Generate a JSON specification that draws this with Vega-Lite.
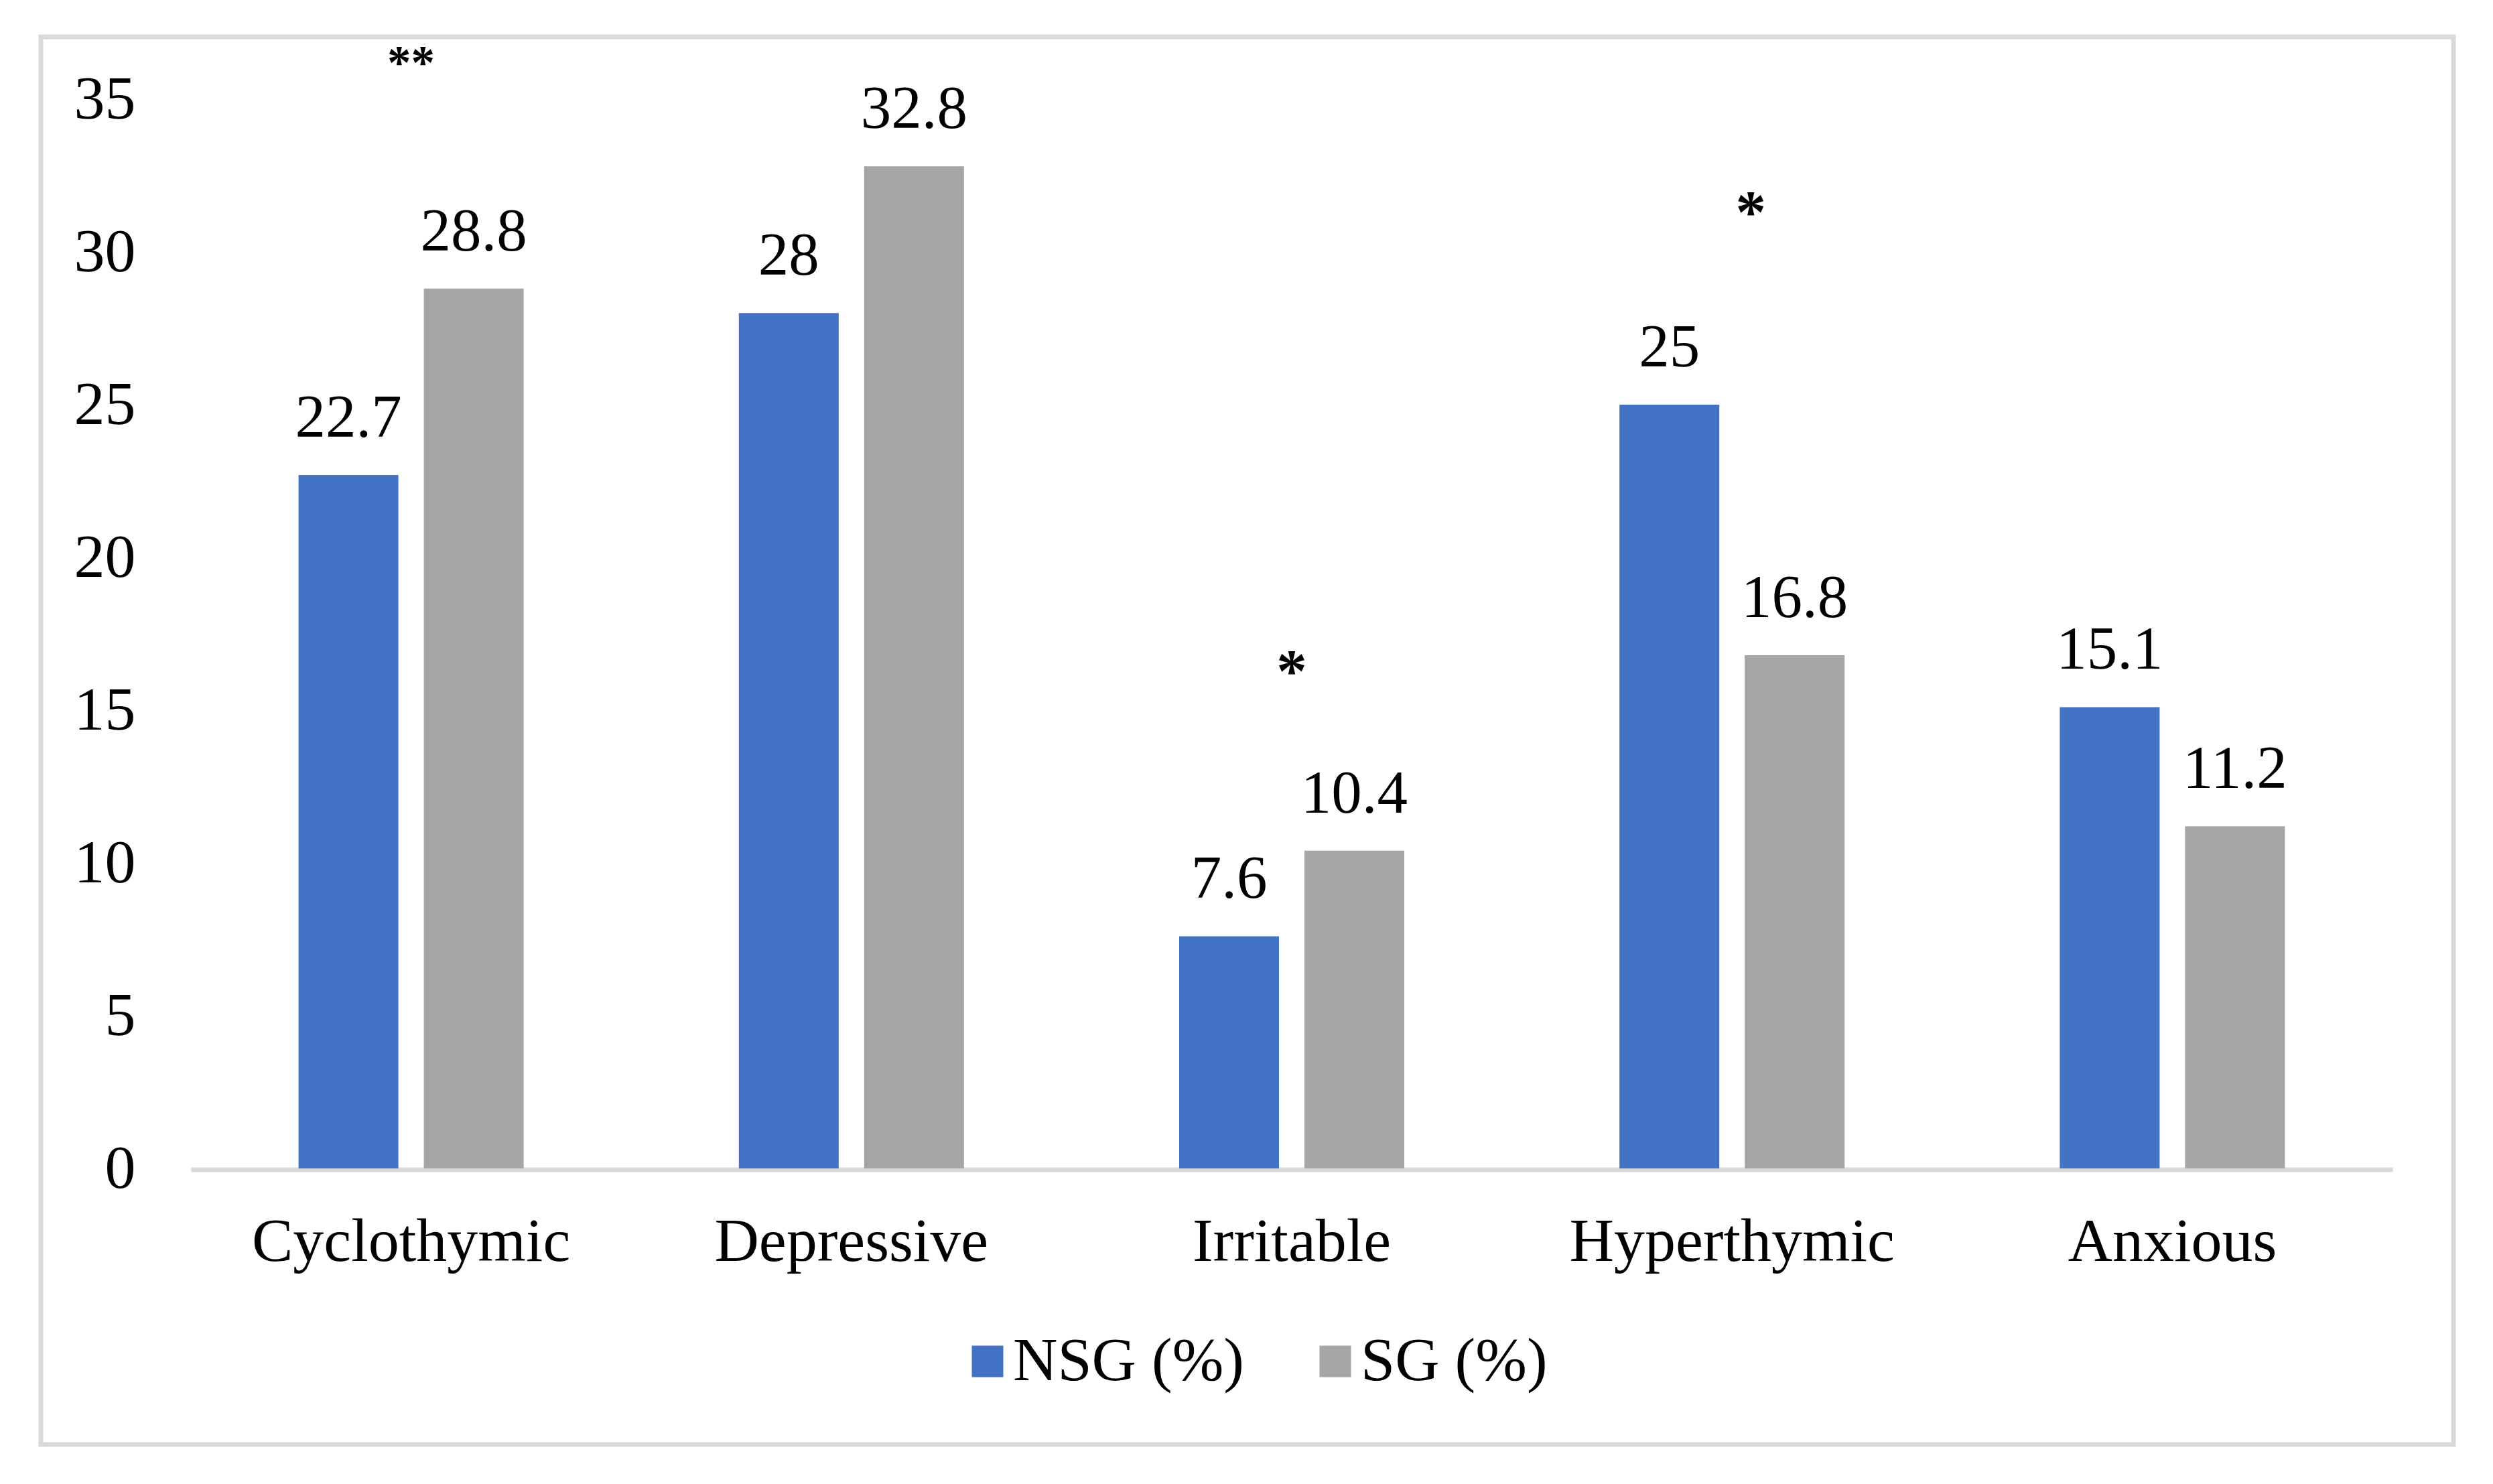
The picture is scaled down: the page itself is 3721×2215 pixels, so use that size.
{
  "$schema": "https://vega.github.io/schema/vega-lite/v6.json",
  "autosize": "none",
  "padding": {"left": 61, "top": 55, "right": 59, "bottom": 59},
  "width": 3601,
  "height": 2101,
  "background": "white",
  "datasets": {
    "scores": [
      {"Temperament": "Cyclothymic", "Group": "NSG (%)", "Value": 22.7},
      {"Temperament": "Cyclothymic", "Group": "SG (%)", "Value": 28.8},
      {"Temperament": "Depressive", "Group": "NSG (%)", "Value": 28},
      {"Temperament": "Depressive", "Group": "SG (%)", "Value": 32.8},
      {"Temperament": "Irritable", "Group": "NSG (%)", "Value": 7.6},
      {"Temperament": "Irritable", "Group": "SG (%)", "Value": 10.4},
      {"Temperament": "Hyperthymic", "Group": "NSG (%)", "Value": 25},
      {"Temperament": "Hyperthymic", "Group": "SG (%)", "Value": 16.8},
      {"Temperament": "Anxious", "Group": "NSG (%)", "Value": 15.1},
      {"Temperament": "Anxious", "Group": "SG (%)", "Value": 11.2}
    ]
  },
  "data": {"name": "scores"},
  "encoding": {
    "x": {
      "field": "Temperament",
      "type": "nominal",
      "sort": null,
      "scale": {"range": [224, 3510], "paddingInner": 0.4887, "paddingOuter": 0.24435},
      "axis": {
        "title": null,
        "orient": "bottom",
        "offset": -410.5,
        "ticks": false,
        "tickSize": 0,
        "labelPadding": 136,
        "labelBaseline": "alphabetic",
        "labelAngle": 0,
        "labelLimit": 0,
        "domainColor": "#d9d9d9",
        "domainWidth": 7,
        "grid": false
      }
    },
    "y": {
      "field": "Value",
      "type": "quantitative",
      "scale": {"domain": [0, 35], "range": [1689, 93], "nice": false, "zero": true},
      "axis": {
        "title": null,
        "orient": "left",
        "offset": -141,
        "values": [0, 5, 10, 15, 20, 25, 30, 35],
        "ticks": false,
        "tickSize": 0,
        "labelPadding": 0,
        "domain": false,
        "grid": false
      }
    },
    "xOffset": {
      "field": "Group",
      "type": "nominal",
      "sort": ["NSG (%)", "SG (%)"],
      "scale": {"paddingInner": 0.203, "paddingOuter": 0}
    }
  },
  "layer": [
    {
      "mark": {"type": "bar"},
      "encoding": {
        "color": {
          "field": "Group",
          "type": "nominal",
          "scale": {"domain": ["NSG (%)", "SG (%)"], "range": ["#4472C4", "#A5A5A5"]},
          "legend": {
            "title": null,
            "orient": "none",
            "direction": "horizontal",
            "legendX": 1367,
            "legendY": 1931,
            "symbolType": "square",
            "symbolSize": 2209,
            "symbolStrokeWidth": 0,
            "labelOffset": -8,
            "labelLimit": 0,
            "columnPadding": 90,
            "padding": 0
          }
        }
      }
    },
    {
      "mark": {"type": "text", "baseline": "alphabetic", "dy": -57, "fontSize": 91, "font": "Liberation Serif", "color": "#000000"},
      "encoding": {
        "text": {"field": "Value", "type": "quantitative"}
      }
    },
    {
      "data": {"values": [{"Temperament": "Cyclothymic", "Value": 35.69, "Sign": "**"}]},
      "mark": {"type": "text", "baseline": "alphabetic", "fontSize": 71, "fontWeight": "bold", "font": "Liberation Serif", "color": "#000000"},
      "encoding": {
        "xOffset": null,
        "text": {"field": "Sign", "type": "nominal"}
      }
    },
    {
      "data": {"values": [{"Temperament": "Irritable", "Value": 15.61, "Sign": "*"}]},
      "mark": {"type": "text", "baseline": "alphabetic", "fontSize": 91, "fontWeight": "bold", "font": "Liberation Serif", "color": "#000000"},
      "encoding": {
        "xOffset": null,
        "text": {"field": "Sign", "type": "nominal"}
      }
    },
    {
      "data": {"values": [{"Temperament": "Hyperthymic", "Value": 30.64, "Sign": "*"}]},
      "mark": {"type": "text", "baseline": "alphabetic", "dx": 28, "fontSize": 91, "fontWeight": "bold", "font": "Liberation Serif", "color": "#000000"},
      "encoding": {
        "xOffset": null,
        "text": {"field": "Sign", "type": "nominal"}
      }
    }
  ],
  "config": {
    "font": "Liberation Serif",
    "view": {"stroke": "#d9d9d9", "strokeWidth": 7, "fill": "white"},
    "axis": {"labelFont": "Liberation Serif", "labelFontSize": 92, "labelColor": "#000000", "labelLimit": 0},
    "legend": {"labelFont": "Liberation Serif", "labelFontSize": 92, "labelColor": "#000000", "labelLimit": 0}
  }
}
